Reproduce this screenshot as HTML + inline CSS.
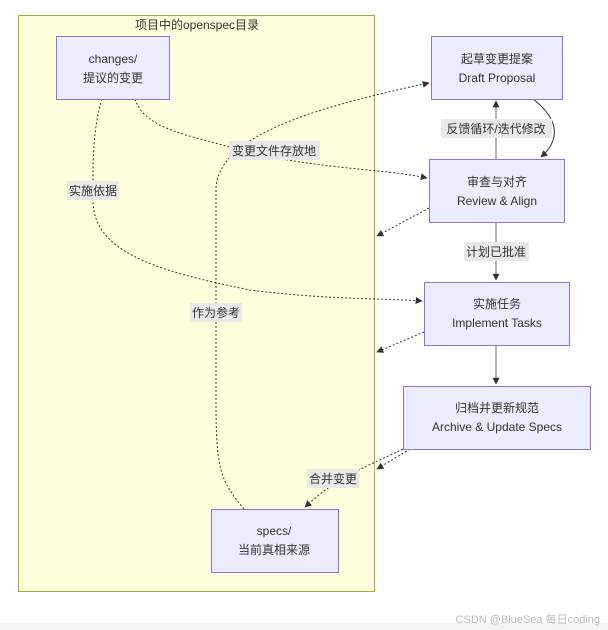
<!DOCTYPE html>
<html><head><meta charset="utf-8"><style>
html,body{margin:0;padding:0;background:#fff;width:608px;height:630px;overflow:hidden}
svg text{font-family:"Liberation Sans","Noto Sans CJK SC",sans-serif;font-size:12px;fill:#333}
</style></head><body>
<svg width="608" height="630" viewBox="0 0 608 630" xmlns="http://www.w3.org/2000/svg">
<defs>
<marker id="a" viewBox="0 0 10 10" refX="9" refY="5" markerWidth="7" markerHeight="7" orient="auto"><path d="M0,0L10,5L0,10z" fill="#333"/></marker>
</defs>
<rect x="0" y="623" width="608" height="7" fill="#f3f3f3"/>
<rect x="18.5" y="15.5" width="356" height="576" fill="#ffffde" stroke="#aaaa33"/>
<text x="197" y="29" text-anchor="middle" font-size="12">项目中的openspec目录</text>

<g fill="none" stroke="#333" stroke-width="1">
<path d="M533,99 C560,120 560,140 541,157" marker-end="url(#a)"/>
<path d="M496,159 L496,101" stroke="#666" marker-end="url(#a)"/>
<path d="M496,222 L496,280" stroke="#666" marker-end="url(#a)"/>
<path d="M496,345 L496,384" stroke="#666" marker-end="url(#a)"/>
<g stroke-dasharray="2,2">
<path d="M135,99 C145,130 190,135 240,150 C320,170 380,168 427,178" marker-end="url(#a)"/>
<path d="M102,99 C92,130 93,170 93,200 C93,250 150,270 250,290 C330,300 380,298 422,301" marker-end="url(#a)"/>
<path d="M244,509 C220,480 216,470 216,400 L216,190 C216,140 300,110 429,83" marker-end="url(#a)"/>
<path d="M429,208 L377,236" marker-end="url(#a)"/>
<path d="M424,332 L377,352" marker-end="url(#a)"/>
<path d="M410,449 L377,469" marker-end="url(#a)"/>
<path d="M403,449 C360,470 340,475 305,507" marker-end="url(#a)"/>
</g>
</g>

<g fill="#ececff" stroke="#9370db">
<rect x="56.5" y="36.5" width="113" height="63"/>
<rect x="431.5" y="36.5" width="131" height="63"/>
<rect x="429.5" y="159.5" width="135" height="63"/>
<rect x="424.5" y="282.5" width="145" height="63"/>
<rect x="403.5" y="386.5" width="187" height="63"/>
<rect x="211.5" y="509.5" width="127" height="63"/>
</g>
<g text-anchor="middle">
<text x="113" y="63">changes/</text><text x="113" y="82">提议的变更</text>
<text x="497" y="63">起草变更提案</text><text x="497" y="82">Draft Proposal</text>
<text x="497" y="186">审查与对齐</text><text x="497" y="205">Review &amp; Align</text>
<text x="497" y="308">实施任务</text><text x="497" y="327">Implement Tasks</text>
<text x="497" y="412">归档并更新规范</text><text x="497" y="431">Archive &amp; Update Specs</text>
<text x="274" y="535">specs/</text><text x="274" y="554">当前真相来源</text>
</g>
<g fill="#e8e8e8">
<rect x="441" y="119" width="111" height="19"/>
<rect x="229" y="141" width="91" height="19"/>
<rect x="67" y="181" width="52" height="19"/>
<rect x="464" y="242" width="65" height="19"/>
<rect x="190" y="303" width="52" height="19"/>
<rect x="307" y="469" width="52" height="19"/>
</g>
<g text-anchor="middle">
<text x="496" y="133">反馈循环/迭代修改</text>
<text x="274" y="155">变更文件存放地</text>
<text x="93" y="195">实施依据</text>
<text x="496" y="256">计划已批准</text>
<text x="216" y="317">作为参考</text>
<text x="333" y="483">合并变更</text>
</g>
<text x="600" y="623" text-anchor="end" style="font-size:11px;fill:#bbb">CSDN @BlueSea 每日coding</text>
</svg>
</body></html>
